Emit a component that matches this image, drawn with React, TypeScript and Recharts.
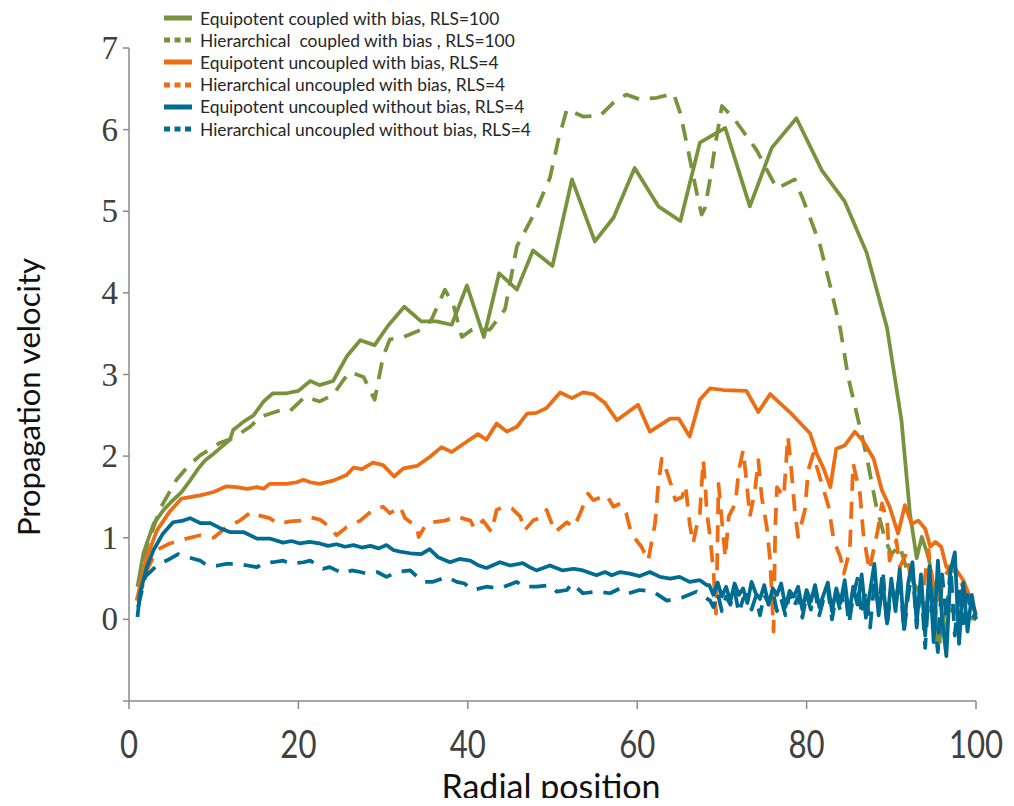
import React from 'react';
import { LineChart, Line, XAxis, YAxis } from 'recharts';

type Pt = [number, number];

const xTicks = [0, 20, 40, 60, 80, 100];
const yTicks = [-1, 0, 1, 2, 3, 4, 5, 6, 7];

const equipotentCoupled: Pt[] = [
  [1, 0.4], [1.7, 0.81], [2.9, 1.17], [4, 1.33], [4.8, 1.42], [6.2, 1.56], [7.2, 1.7], [8.2, 1.85], [9, 1.95],
  [10, 2.03], [11, 2.12], [11.9, 2.2], [12.3, 2.32], [13.5, 2.42], [14.7, 2.5], [15.9, 2.67], [17, 2.77],
  [18.6, 2.77], [20, 2.8], [21.4, 2.92], [22.5, 2.87], [24.1, 2.92], [25.7, 3.22], [27.3, 3.42], [29, 3.36],
  [30.6, 3.6], [32.5, 3.83], [34.5, 3.65], [36.3, 3.65], [38.1, 3.61], [39.9, 4.09], [41.9, 3.46], [43.7, 4.24],
  [45.8, 4.04], [47.7, 4.52], [50, 4.33], [52.3, 5.39], [55, 4.63], [57.2, 4.92], [59.7, 5.53], [62.5, 5.06],
  [65.1, 4.88], [67.4, 5.84], [70.4, 6.02], [73.3, 5.06], [75.9, 5.78], [78.8, 6.14], [81.8, 5.5], [84.5, 5.12],
  [87.1, 4.49], [89.5, 3.57], [91.2, 2.44], [92.2, 1.3], [93, 0.75], [93.6, 1.01], [94.4, 0.76], [95, 0.4],
  [95.5, -0.34], [96.5, 0.15], [98, 0.05], [100, 0],
];

const hierarchicalCoupled: Pt[] = [
  [1.1, 0.4], [2.1, 0.89], [3.7, 1.36], [5.6, 1.71], [7, 1.88], [8.4, 2.01], [10.7, 2.16], [12.3, 2.22],
  [14.3, 2.36], [15.5, 2.48], [17.8, 2.56], [19, 2.55], [20.8, 2.73], [22.5, 2.67], [24.1, 2.75], [25.3, 2.93],
  [26.1, 3.03], [27.7, 2.97], [29, 2.69], [30, 3.22], [30.8, 3.43], [32.4, 3.46], [34.5, 3.55], [35.7, 3.67],
  [37.3, 4.04], [38.3, 3.85], [39.3, 3.46], [40.5, 3.55], [42.6, 3.55], [44.4, 3.8], [45.8, 4.57], [48.1, 5.02],
  [49.7, 5.41], [50.7, 5.88], [51.7, 6.25], [53.6, 6.16], [55.6, 6.17], [57.2, 6.33], [58.7, 6.43], [60.3, 6.37],
  [62.3, 6.39], [64.3, 6.44], [65.1, 6.2], [66, 5.75], [67, 5.24], [67.6, 4.96], [68, 5.04], [68.6, 5.39],
  [69.2, 5.8], [70, 6.29], [71.4, 6.14], [72.5, 5.98], [74.1, 5.75], [75.5, 5.47], [76.5, 5.28], [78.6, 5.39],
  [79.6, 5.14], [80.8, 4.81], [81.6, 4.58], [82.8, 4.08], [84, 3.55], [84.9, 2.97], [86.1, 2.44], [87.1, 1.99],
  [88.2, 1.4], [89.3, 0.97], [90, 0.8], [91, 0.9], [92, 0.55], [93.5, 0.3], [95, 0.05], [95.8, -0.3], [97, 0.1],
  [100, 0],
];

const equipotentUncoupledBias: Pt[] = [
  [0.9, 0.23], [2.1, 0.76], [3.3, 1.09], [4.8, 1.32], [6.2, 1.48], [8.4, 1.52], [10, 1.56], [11.5, 1.63],
  [12.7, 1.62], [13.9, 1.6], [15.1, 1.62], [15.9, 1.6], [16.6, 1.66], [18.6, 1.66], [19.8, 1.68], [20.6, 1.71],
  [21.4, 1.68], [22.5, 1.66], [24.1, 1.7], [25.7, 1.77], [26.5, 1.86], [27.5, 1.84], [28.8, 1.92], [30, 1.89],
  [31.3, 1.75], [32.4, 1.85], [34, 1.88], [35.5, 1.99], [36.9, 2.11], [38.1, 2.05], [39.9, 2.18], [41.2, 2.27],
  [42.2, 2.2], [43.4, 2.4], [44.6, 2.3], [45.8, 2.36], [47, 2.52], [48.1, 2.53], [49.3, 2.59], [50.9, 2.78],
  [52.3, 2.71], [53.6, 2.78], [54.8, 2.76], [56.2, 2.65], [57.6, 2.44], [60.1, 2.63], [61.5, 2.3], [63.9, 2.46],
  [64.9, 2.46], [66.2, 2.24], [67.4, 2.69], [68.6, 2.83], [70.2, 2.81], [72.9, 2.8], [74.3, 2.54], [75.7, 2.76],
  [78, 2.54], [80.4, 2.28], [81.2, 2.03], [82, 1.85], [82.8, 1.62], [83.5, 2.09], [84.5, 2.13], [85.7, 2.3],
  [86.7, 2.18], [87.9, 1.97], [88.9, 1.58], [89.8, 1.38], [90.8, 1.05], [91.6, 1.4], [92.4, 1.17], [93.2, 1.21],
  [94, 1.11], [94.6, 0.89], [95.2, 0.95], [95.9, 0.89], [96.5, 0.64], [97.3, 0.66], [98.5, 0.48], [99.3, 0.27],
  [100, 0.07],
];

const hierarchicalUncoupledBias: Pt[] = [
  [1.1, 0.23], [2.1, 0.6], [3.3, 0.85], [4.8, 0.93], [6.8, 0.99], [8.4, 1.03], [10, 1.0], [11.5, 1.13],
  [13.1, 1.21], [14.5, 1.32], [15.1, 1.28], [16.6, 1.24], [17.6, 1.17], [19, 1.2], [20.2, 1.21], [21.4, 1.25],
  [22.6, 1.22], [23.7, 1.13], [24.5, 1.03], [25.7, 1.13], [27.3, 1.21], [28.8, 1.34], [30, 1.38], [30.8, 1.3],
  [32, 1.38], [32.6, 1.24], [34, 1.13], [34.2, 1.01], [35.1, 1.17], [35.9, 1.19], [37.3, 1.21], [38.7, 1.26],
  [40.3, 1.21], [40.8, 1.11], [41.8, 1.21], [42.8, 1.07], [43.4, 1.34], [44.2, 1.38], [45.2, 1.36], [46.2, 1.26],
  [46.7, 1.09], [47.7, 1.21], [48.9, 1.26], [49.3, 1.34], [50.3, 1.07], [51.7, 1.19], [52.5, 1.13], [53.2, 1.28],
  [54.2, 1.54], [54.8, 1.46], [56.4, 1.52], [57.2, 1.38], [58, 1.42], [58.7, 1.3], [59.3, 1.05], [60.5, 0.89],
  [61.3, 0.72], [62.1, 1.17], [62.5, 1.66], [62.9, 1.97], [63.3, 1.87], [64.1, 1.62], [64.5, 1.46], [65.3, 1.5],
  [65.7, 1.64], [66.2, 1.17], [66.6, 0.93], [67, 1.13], [67.4, 1.3], [67.8, 1.95], [68, 1.7], [68.2, 1.34],
  [68.6, 1.01], [69, 0.6], [69.3, 0.07], [69.4, 0.44], [69.6, 1.66], [70, 1.21], [70.4, 0.76], [70.8, 1.26],
  [71.6, 1.42], [72, 1.83], [72.5, 2.07], [72.9, 1.7], [73.3, 1.26], [73.9, 1.58], [74.3, 1.95], [74.7, 1.5],
  [75.3, 1.13], [75.7, 0.72], [76.1, -0.15], [76.3, 1.13], [76.5, 1.62], [77.3, 1.5], [77.6, 1.95], [77.8, 2.24],
  [78.2, 1.83], [78.6, 1.34], [79, 1.01], [79.8, 1.34], [80.2, 1.83], [80.8, 2.03], [81.2, 1.87], [82.6, 1.38],
  [83.2, 0.97], [84, 0.76], [84.4, 0.56], [85.1, 0.85], [85.5, 1.91], [86.3, 1.54], [86.7, 1.05], [87.4, 0.6],
  [88.4, 1.09], [88.9, 1.42], [89.5, 1.21], [89.8, 0.72], [90.6, 0.97], [91, 0.64], [91.8, 0.81], [92.2, 0.56],
  [93, 0.45], [93.6, 0.23], [94.4, 0.85], [95.3, 0.07], [96.2, 0.5], [96.9, 0.64], [97.7, 0.56], [98.9, 0.31],
  [99.7, 0.15], [100, 0.05],
];

const equipotentUncoupledNoBias: Pt[] = [
  [1, 0.03], [1.3, 0.32], [2.1, 0.64], [2.9, 0.85], [4, 1.05], [5.2, 1.19], [6.4, 1.21], [7.2, 1.24], [8.4, 1.18],
  [9.6, 1.18], [10.7, 1.12], [11.9, 1.07], [13.5, 1.07], [15.1, 0.99], [16.6, 0.99], [18.2, 0.94], [19.2, 0.96],
  [20.2, 0.93], [21.3, 0.95], [22.5, 0.93], [23.5, 0.9], [24.5, 0.92], [25.5, 0.89], [26.5, 0.91], [27.5, 0.88],
  [28.5, 0.9], [29.5, 0.87], [30.4, 0.91], [31.2, 0.85], [32, 0.83], [33.2, 0.81], [34.5, 0.8], [35.5, 0.86],
  [36.5, 0.76], [37.9, 0.7], [39, 0.74], [40.3, 0.72], [41.3, 0.66], [42.2, 0.63], [43.8, 0.7], [45, 0.66],
  [46.5, 0.69], [47.3, 0.64], [48.1, 0.6], [49.7, 0.66], [51.2, 0.6], [52.5, 0.62], [53.6, 0.6], [55.2, 0.54],
  [56.2, 0.58], [57, 0.54], [58, 0.58], [59.1, 0.56], [60.3, 0.53], [61.5, 0.58], [62.7, 0.52], [63.9, 0.5],
  [65, 0.52], [66.2, 0.46], [67.4, 0.48], [68.2, 0.42],
  [68.5, 0.42], [69, 0.3], [69.5, 0.45], [70, 0.28], [70.5, 0.4], [71, 0.22], [71.5, 0.44], [72, 0.3], [72.5, 0.38],
  [73, 0.2], [73.5, 0.46], [74, 0.32], [74.5, 0.25], [75, 0.42], [75.5, 0.18], [76, 0.38], [76.5, 0.3], [77, 0.44],
  [77.5, 0.15], [78, 0.35], [78.5, 0.28], [79, 0.4], [79.5, 0.12], [80, 0.36], [80.5, 0.22], [81, 0.42],
  [81.5, 0.15], [82, 0.3], [82.5, 0.45], [83, 0.1], [83.5, 0.38], [84, 0.2], [84.5, 0.48], [85, 0.05], [85.5, 0.4],
  [86, 0.18], [86.5, 0.55], [87, 0.02], [87.5, 0.35], [88, 0.68], [88.5, 0.05], [89, 0.45], [89.5, -0.05],
  [90, 0.5], [90.5, 0.1], [91, 0.62], [91.5, -0.12], [92, 0.45], [92.5, 0.7], [93, -0.05], [93.5, 0.55],
  [94, -0.2], [94.5, 0.65], [95, -0.28], [95.5, 0.72], [96, 0], [96.5, -0.45], [97, 0.6], [97.5, 0.82],
  [98, -0.3], [98.5, 0.45], [99, -0.15], [99.5, 0.3], [100, 0],
];

const hierarchicalUncoupledNoBias: Pt[] = [
  [1.07, 0.15], [1.9, 0.52], [2.7, 0.6], [3.5, 0.68], [4.45, 0.72], [5.8, 0.8], [7, 0.76], [8.4, 0.72],
  [9.2, 0.66], [10.5, 0.66], [11.5, 0.68], [12.7, 0.68], [14, 0.66], [15.1, 0.64], [15.9, 0.69], [17, 0.7],
  [18.2, 0.72], [19, 0.68], [20.6, 0.7], [21.4, 0.72], [22.9, 0.62], [23.7, 0.64], [25.3, 0.56], [26.3, 0.6],
  [27.3, 0.58], [28.1, 0.56], [29.3, 0.58], [30.4, 0.52], [31.6, 0.58], [33.2, 0.6], [34.7, 0.46], [35.9, 0.46],
  [37.5, 0.52], [38.7, 0.46], [39.6, 0.44], [40.6, 0.36], [42.2, 0.4], [43.8, 0.38], [45.8, 0.46], [46.5, 0.4],
  [48.1, 0.4], [49.7, 0.42], [50.5, 0.34], [51.7, 0.36], [52.3, 0.44], [53.6, 0.32], [55.2, 0.34], [56.8, 0.32],
  [58, 0.38], [59, 0.32], [60.3, 0.36], [61.9, 0.34], [63.5, 0.23], [65.4, 0.27], [67, 0.34], [68.6, 0.23],
  [69, 0.15], [69.5, 0.32], [70, 0.1], [70.5, 0.28], [71, 0.18], [71.5, 0.35], [72, 0.08], [72.5, 0.25],
  [73, 0.3], [73.5, 0.12], [74, 0.28], [74.5, 0.05], [75, 0.3], [75.5, 0.2], [76, 0.35], [76.5, 0.1], [77, 0.25],
  [77.5, 0.05], [78, 0.32], [78.5, 0.15], [79, 0.28], [79.5, 0.02], [80, 0.3], [80.5, 0.12], [81, 0.35],
  [81.5, 0.05], [82, 0.25], [82.5, 0.38], [83, 0], [83.5, 0.3], [84, 0.1], [84.5, 0.4], [85, -0.05], [85.5, 0.28],
  [86, 0.5], [86.5, 0.05], [87, 0.35], [87.5, -0.1], [88, 0.45], [88.5, 0.15], [89, 0.6], [89.5, -0.08],
  [90, 0.4], [90.5, 0.2], [91, 0.55], [91.5, -0.15], [92, 0.3], [92.5, 0.62], [93, -0.1], [93.5, 0.45],
  [94, -0.35], [94.5, 0.5], [95, 0.1], [95.5, -0.4], [96, 0.55], [96.5, 0], [97, 0.65], [97.5, -0.2], [98, 0.4],
  [98.5, -0.05], [99, 0.3], [99.5, 0.05], [100, 0.02],
];

const seriesNames = [
  'Equipotent coupled with bias, RLS=100',
  'Hierarchical  coupled with bias , RLS=100',
  'Equipotent uncoupled with bias, RLS=4',
  'Hierarchical uncoupled with bias, RLS=4',
  'Equipotent uncoupled without bias, RLS=4',
  'Hierarchical uncoupled without bias, RLS=4',
];

const GREEN = '#77933C';
const ORANGE = '#EE6D12';
const BLUE = '#006C91';

const series = [
  { name: seriesNames[0], data: equipotentCoupled, color: GREEN, dashed: false },
  { name: seriesNames[1], data: hierarchicalCoupled, color: GREEN, dashed: true },
  { name: seriesNames[2], data: equipotentUncoupledBias, color: ORANGE, dashed: false },
  { name: seriesNames[3], data: hierarchicalUncoupledBias, color: ORANGE, dashed: true },
  { name: seriesNames[4], data: equipotentUncoupledNoBias, color: BLUE, dashed: false },
  { name: seriesNames[5], data: hierarchicalUncoupledNoBias, color: BLUE, dashed: true },
];

const toRows = (pts: Pt[]) => pts.map(([x, y]) => ({ x, y }));

const XTick = (props: any) => {
  const { x, y, payload } = props;
  return (
    <g transform={`translate(${x},${y + 49}) scale(0.82,1)`}>
      <text x={0} y={0} textAnchor="middle" fontFamily="Lato, 'Noto Sans', sans-serif" fontSize={38} fill="#404040">
        {payload.value}
      </text>
    </g>
  );
};

const YTick = (props: any) => {
  const { x, y, payload } = props;
  if (payload.value < 0) return <g />;
  return (
    <text x={x} y={y} dy={11} textAnchor="end" fontFamily="'Liberation Serif', 'DejaVu Serif', serif" fontSize={33} fill="#404040">
      {payload.value}
    </text>
  );
};

const AXIS = '#8A8A8A';

export default function App() {
  return (
    <div style={{ position: 'relative', width: 998, height: 806, marginTop: -8, marginBottom: -8 }}>
      <div style={{ position: 'absolute', left: 0, top: 8 }}>
        <LineChart width={998} height={790} margin={{ top: 40, right: 30, bottom: 37, left: 61 }}>
          <XAxis
            type="number"
            dataKey="x"
            domain={[0, 100]}
            ticks={xTicks}
            interval={0}
            height={60}
            tickSize={8}
            tickMargin={0}
            axisLine={{ stroke: AXIS, strokeWidth: 1.5 }}
            tickLine={{ stroke: AXIS, strokeWidth: 1.5 }}
            tick={<XTick />}
          />
          <YAxis
            type="number"
            domain={[-1, 7]}
            ticks={yTicks}
            interval={0}
            width={60}
            tickSize={6}
            tickMargin={5}
            axisLine={{ stroke: AXIS, strokeWidth: 1.5 }}
            tickLine={{ stroke: AXIS, strokeWidth: 1.5 }}
            tick={<YTick />}
          />
          {series.map((s) => (
            <Line
              key={s.name}
              data={toRows(s.data)}
              dataKey="y"
              name={s.name}
              type="linear"
              stroke={s.color}
              strokeWidth={3.75}
              strokeDasharray={s.dashed ? '17 11' : undefined}
              strokeLinejoin="round"
              dot={false}
              activeDot={false}
              isAnimationActive={false}
            />
          ))}
        </LineChart>
      </div>

      <div style={{ position: 'absolute', left: 155, top: 7, fontFamily: "Lato, 'Noto Sans', sans-serif", fontSize: 17.4, color: '#262626' }}>
        {series.map((s) => (
          <div key={s.name} style={{ display: 'flex', alignItems: 'center', height: 22.2 }}>
            <svg width={30} height={8} style={{ display: 'block' }}>
              <line x1={1} y1={4} x2={29} y2={4} stroke={s.color} strokeWidth={5} strokeDasharray={s.dashed ? '6 4.5' : undefined} />
            </svg>
            <span style={{ marginLeft: 7, whiteSpace: 'pre' }}>{s.name}</span>
          </div>
        ))}
      </div>

      <div
        style={{
          position: 'absolute', left: 20, top: 397, transform: 'translate(-50%, -50%) rotate(-90deg)',
          whiteSpace: 'nowrap', fontFamily: "Lato, 'Noto Sans', sans-serif", fontSize: 31, color: '#111', lineHeight: 1,
        }}
      >
        Propagation velocity
      </div>
      <div
        style={{
          position: 'absolute', left: 543, top: 786, transform: 'translate(-50%, -50%)',
          whiteSpace: 'nowrap', fontFamily: "Lato, 'Noto Sans', sans-serif", fontSize: 34, color: '#111', lineHeight: 1,
        }}
      >
        Radial position
      </div>
    </div>
  );
}
